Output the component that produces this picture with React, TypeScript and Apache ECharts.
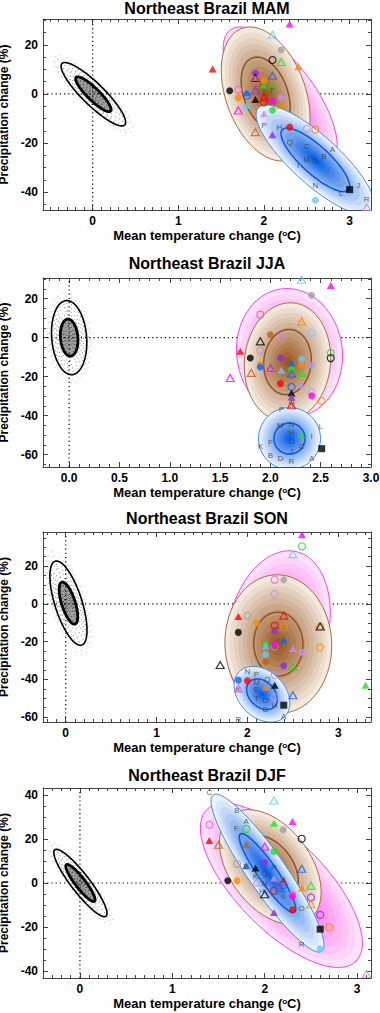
import React, { useEffect, useRef } from 'react';
import * as echarts from 'echarts';

const FONT = '"Liberation Sans", Arial, Helvetica, sans-serif';

const TITLES = ['Northeast Brazil MAM', 'Northeast Brazil JJA', 'Northeast Brazil SON', 'Northeast Brazil DJF'];
const X_NAME = 'Mean temperature change ({s|o}C)';
const Y_NAME = 'Precipitation change (%)';

const X_MIN = [-0.58, -0.26, -0.25, -0.4];
const X_MAX = [3.25, 3.0, 3.36, 3.15];
const Y_MIN = [-47.2, -66.4, -62.6, -43.2];
const Y_MAX = [30.5, 30.6, 38.1, 43.2];
const X_SPLIT = [4, 6, 4, 4];
const X_STEP = [1, 0.5, 1, 1];
const X_MINOR = [10, 5, 10, 10];
const X_DEC = [0, 1, 0, 0];
const Y_SPLIT = [4, 5, 5, 4];
const Y_STEP = [20, 20, 20, 20];

const GRID_TOP = [19, 278, 532, 788];
const GRID_H = [191, 189, 190, 190];
const TITLE_Y = [8, 263.5, 518.5, 775];

const COLORS: Record<string, string> = {
  R: '#ff0000', M: '#ff00ff', LB: '#66c8ff', G: '#a0a0a0', K: '#000000', GR: '#22dd22',
  O: '#ff8800', P: '#8a2be2', PK: '#ff55cc', B: '#0a64ff', L: '#c090ee', BR: '#c0601e', S: '#ff5566',
};

// [cx, cy, major semi-axis dx, dy, minor/major ratio, inner contour scale]
const MAM_ELLIPSES = [
  [2.19, -1.2, -0.584, 27.2, 0.41, 0.55],
  [2.02, 0.0, -0.279, 26.7, 0.57, 0.55],
  [2.6, -26.8, 0.666, -21.1, 0.31, 0.58],
];
const JJA_ELLIPSES = [
  [2.19, -7.8, -0.08, 32.8, 0.82, 0.55],
  [2.17, -12.5, 0.06, 30.3, 0.725, 0.55],
  [2.19, -51.8, 0.0, 15.9, 1.0, 0.5],
];
const SON_ELLIPSES = [
  [2.34, -13.3, 0.198, 41, 0.63, 0.55],
  [2.34, -21.3, -0.033, 36.7, 0.77, 0.46],
  [2.16, -47.9, -0.249, 12.0, 0.72, 0.55],
];
const DJF_ELLIPSES = [
  [2.18, -1.1, -0.806, 34.5, 0.42, 0.55],
  [2.06, 7.2, -0.425, 23.7, 0.62, 0.55],
  [2.03, 4.5, -0.588, 35.6, 0.2, 0.5],
];
const CLOUDS = [
  [0.008, -0.1, -0.366, 12.5, 0.25, 0.55],
  [0.0, 0.0, -0.03, 19.0, 0.47, 0.5],
  [0.03, 0.4, -0.146, 22.2, 0.31, 0.5],
  [0.005, 0.0, -0.277, 15.1, 0.22, 0.55],
];
const KINDS = ['pink', 'brown', 'blue'];

const MAM_MARKERS: [number, number, string, string][] = [
  [2.3, 28.5, 't', 'M'], [2.1, 24.1, 'v', 'LB'], [2.2, 17.9, 'c', 'G'], [2.1, 13.8, 'o', 'K'],
  [2.2, 13.0, 'v', 'GR'], [2.4, 11.1, 't', 'O'], [1.4, 10.2, 't', 'R'], [1.9, 8.4, 'c', 'P'],
  [1.9, 6.5, 'v', 'K'], [1.9, 5.6, 'o', 'PK'], [2.1, 7.4, 'v', 'B'], [2.0, 5.5, 'c', 'O'],
  [2.0, 3.7, 't', 'GR'], [2.1, 2.6, 'o', 'GR'], [1.6, 1.3, 'c', 'K'], [1.7, 1.7, 'o', 'PK'],
  [1.8, 0.5, 't', 'B'], [1.9, 1.4, 'v', 'P'], [1.8, -0.6, 'o', 'B'], [1.7, -1.5, 'c', 'O'],
  [1.9, -2.2, 't', 'K'], [2.0, -1.3, 'v', 'R'], [2.0, -3.4, 'o', 'R'], [2.1, -2.8, 'c', 'M'],
  [2.2, -1.5, 'c', 'L'], [2.2, -4.4, 'v', 'O'], [1.8, -4.7, 't', 'LB'], [1.7, -6.7, 'v', 'M'],
  [2.1, -6.6, 'c', 'GR'], [2.0, -8.0, 't', 'L'], [1.9, -15.5, 'v', 'BR'], [2.3, -13.5, 'c', 'R'],
  [2.5, -14.2, 'o', 'L'], [2.6, -14.5, 'o', 'O'], [2.1, -16.6, 't', 'P'], [3.0, -38.9, 's', 'K'],
  [2.6, -43.2, 'c', 'LB'], [3.2, -46.1, 'v', 'L'],
];
const JJA_MARKERS: [number, number, string, string][] = [
  [2.31, 29.7, 'v', 'LB'], [2.6, 26.8, 't', 'M'], [2.41, 21.7, 'c', 'G'], [1.9, 11.8, 'o', 'S'],
  [2.31, 8.3, 'v', 'O'], [2.41, 2.5, 'o', 'LB'], [2.0, 1.5, 'c', 'BR'], [2.11, -0.2, 'o', 'L'],
  [1.9, -1.9, 'v', 'K'], [1.9, -6.5, 'o', 'G'], [1.7, -7.0, 't', 'R'], [2.6, -7.9, 'o', 'GR'],
  [2.6, -10.5, 'o', 'K'], [1.8, -10.5, 'c', 'K'], [2.1, -10.5, 'c', 'P'], [2.31, -11.3, 'c', 'LB'],
  [2.21, -13.0, 't', 'B'], [2.31, -13.4, 't', 'O'], [1.9, -13.9, 'c', 'O'], [1.9, -15.1, 'c', 'B'],
  [2.41, -14.2, 'c', 'L'], [2.0, -15.6, 'v', 'P'], [2.0, -18.1, 'o', 'PK'], [2.11, -16.8, 't', 'LB'],
  [2.21, -16.4, 'c', 'GR'], [2.21, -18.5, 'v', 'B'], [2.31, -18.1, 'v', 'GR'], [1.81, -18.1, 'v', 'BR'],
  [1.6, -20.7, 'v', 'M'], [2.1, -23.6, 'c', 'R'], [2.31, -24.5, 't', 'L'], [2.21, -25.3, 'o', 'B'],
  [2.21, -28.4, 't', 'K'], [2.21, -30.5, 't', 'P'], [2.41, -27.9, 'o', 'L'], [2.41, -29.8, 'c', 'M'],
  [2.51, -32.5, 'o', 'O'], [2.21, -34.7, 'v', 'R'], [2.31, -49.8, 't', 'GR'], [2.51, -57.0, 's', 'K'],
];
const SON_MARKERS: [number, number, string, string][] = [
  [2.6, 36.7, 't', 'M'], [2.6, 30.5, 'o', 'GR'], [2.5, 26.4, 'v', 'LB'], [2.3, 12.8, 'o', 'PK'],
  [2.4, 12.8, 'c', 'G'], [2.3, 5.3, 'o', 'L'], [1.9, -6.7, 't', 'R'], [2.0, -6.2, 'o', 'G'],
  [2.4, -6.2, 'v', 'R'], [2.1, -10.3, 'c', 'O'], [2.3, -11.5, 'o', 'R'], [2.4, -12.4, 'o', 'O'],
  [2.8, -12.0, 'o', 'O'], [2.8, -12.0, 'v', 'K'], [1.9, -15.1, 'c', 'K'], [2.3, -13.8, 't', 'P'],
  [2.4, -19.1, 't', 'B'], [2.2, -21.4, 'c', 'GR'], [2.2, -22.3, 't', 'LB'], [2.3, -22.7, 'o', 'G'],
  [2.3, -21.4, 'c', 'M'], [2.5, -23.6, 't', 'L'], [2.6, -25.7, 'c', 'L'], [2.8, -23.2, 'o', 'O'],
  [2.2, -26.8, 'c', 'LB'], [2.2, -30.7, 'c', 'BR'], [1.7, -32.4, 'v', 'K'], [2.4, -32.8, 'c', 'P'],
  [2.5, -33.3, 'v', 'GR'], [2.3, -37.7, 'o', 'L'], [1.9, -40.4, 'c', 'B'], [2.0, -40.8, 'c', 'R'],
  [2.3, -43.1, 't', 'K'], [2.2, -44.0, 't', 'O'], [1.9, -44.8, 'v', 'PK'], [2.5, -48.4, 'v', 'B'],
  [2.3, -49.5, 'o', 'L'], [2.4, -53.7, 's', 'K'], [3.3, -43.1, 't', 'GR'],
];
const DJF_MARKERS: [number, number, string, string][] = [
  [2.1, 37.5, 'v', 'LB'], [2.1, 27.2, 't', 'GR'], [2.3, 28.0, 't', 'M'], [1.8, 24.6, 'o', 'GR'],
  [1.4, 26.5, 'o', 'PK'], [2.2, 24.2, 'c', 'G'], [2.4, 20.1, 'o', 'K'], [1.4, 19.3, 't', 'R'],
  [1.5, 17.4, 'v', 'BR'], [1.8, 17.4, 't', 'BR'], [2.0, 16.6, 'v', 'M'], [2.1, 14.3, 'c', 'GR'],
  [1.7, 8.7, 'o', 'G'], [1.8, 7.8, 't', 'B'], [1.9, 6.8, 't', 'K'], [2.0, 9.3, 'c', 'P'],
  [2.4, 6.5, 'v', 'B'], [1.91, 0.4, 'v', 'L'], [2.1, 2.2, 't', 'L'], [2.2, 0.7, 'v', 'R'],
  [1.6, 1.0, 'c', 'K'], [1.7, 1.0, 'c', 'O'], [2.4, -2.3, 't', 'O'], [2.5, -1.3, 'v', 'GR'],
  [2.0, -5.1, 'v', 'K'], [2.1, -3.5, 'o', 'R'], [2.2, -1.0, 'o', 'B'], [2.3, -5.1, 'c', 'PK'],
  [2.3, -6.1, 'c', 'M'], [2.5, -6.6, 'o', 'P'], [2.5, -9.6, 'v', 'O'], [2.3, -12.2, 'c', 'R'],
  [2.1, -13.4, 't', 'P'], [2.6, -14.5, 'o', 'P'], [2.6, -21.0, 's', 'K'], [2.7, -20.2, 'o', 'O'],
  [2.6, -29.9, 'c', 'LB'], [3.1, -41.4, 'v', 'L'],
];

const MAM_LETTERS: [number, number, string][] = [
  [2.1, 1.5, 'F'], [2.0, -12.9, 'P'], [2.18, -13.5, 'H'], [2.3, -19.6, 'Q'], [2.5, -21.3, 'C'],
  [2.8, -22.6, 'A'], [2.7, -25.3, 'B'], [2.5, -26.5, 'M'], [2.6, -27.4, 'O'], [2.4, -29.0, 'I'],
  [2.6, -37.2, 'N'], [2.9, -40.3, 'L'], [3.1, -37.2, 'J'], [3.2, -42.9, 'R'],
];
const JJA_LETTERS: [number, number, string][] = [
  [2.21, -33.4, 'Q'], [2.11, -36.8, 'P'], [2.1, -45.0, 'M'], [2.21, -44.6, 'N'], [2.5, -45.5, 'L'],
  [2.21, -48.9, 'H'], [2.41, -50.6, 'I'], [2.0, -53.9, 'F'], [2.21, -53.2, 'O'], [2.31, -56.1, 'C'],
  [1.9, -56.1, 'K'], [2.0, -60.5, 'B'], [2.1, -61.9, 'D'], [2.21, -58.6, 'J'], [2.41, -62.1, 'A'],
  [2.21, -63.6, 'R'],
];
const SON_LETTERS: [number, number, string][] = [
  [2.0, -36.0, 'N'], [2.1, -37.4, 'P'], [2.1, -41.5, 'M'], [2.1, -45.6, 'E'], [2.1, -50.0, 'T'],
  [2.22, -40.0, 'Q'], [1.9, -45.2, 'K'], [2.2, -51.2, 'O'], [2.3, -53.7, 'H'], [2.2, -55.8, 'D'],
  [2.4, -59.9, 'A'], [1.9, -61.3, 'R'],
];
const DJF_LETTERS: [number, number, string][] = [
  [1.4, 41.3, 'C'], [1.7, 32.8, 'B'], [1.8, 28.0, 'A'], [1.69, 24.9, 'F'], [1.8, 7.6, 'E'],
  [2.1, 7.2, 'R'], [2.0, 4.5, 'Q'], [1.9, 3.0, 'K'], [2.0, -0.4, 'N'], [1.97, -4.0, 'H'],
  [2.2, 1.2, 'J'], [2.2, -2.9, 'L'], [2.2, -6.3, 'I'], [2.4, -11.4, 'O'], [2.4, -28.1, 'R'],
];

const PANEL_ELLIPSES = [MAM_ELLIPSES, JJA_ELLIPSES, SON_ELLIPSES, DJF_ELLIPSES];
const PANEL_MARKERS = [MAM_MARKERS, JJA_MARKERS, SON_MARKERS, DJF_MARKERS];
const PANEL_LETTERS = [MAM_LETTERS, JJA_LETTERS, SON_LETTERS, DJF_LETTERS];

const SHADES: Record<string, { outer: string; inner: string; line: string; contour: string | null }> = {
  pink: { outer: '#fde3fa', inner: '#ff40e8', line: '#ff3cf0', contour: null },
  brown: { outer: '#f4eae0', inner: '#9a5822', line: '#a86c40', contour: '#8f5220' },
  blue: { outer: '#ebf2fd', inner: '#0b5fe6', line: '#3d8cf2', contour: '#0a55d6' },
};

function hexRgb(c: string) {
  return [parseInt(c.slice(1, 3), 16), parseInt(c.slice(3, 5), 16), parseInt(c.slice(5, 7), 16)];
}
function mix(a: string, b: string, t: number) {
  const A = hexRgb(a), B = hexRgb(b);
  return `rgb(${A.map((v, i) => Math.round(v + (B[i] - v) * t)).join(',')})`;
}

function ellPts(api: any, e: number[], s: number) {
  const c = api.coord([e[0], e[1]]);
  const p = api.coord([e[0] + e[2], e[1] + e[3]]);
  const ax = p[0] - c[0], ay = p[1] - c[1];
  const bx = -ay * e[4], by = ax * e[4];
  const pts: number[][] = [];
  const n = 90;
  for (let i = 0; i < n; i++) {
    const t = (i / n) * Math.PI * 2;
    const ct = Math.cos(t), st = Math.sin(t);
    pts.push([c[0] + s * (ax * ct + bx * st), c[1] + s * (ay * ct + by * st)]);
  }
  return pts;
}

function clipOf(params: any) {
  const cs = params.coordSys;
  return { type: 'rect', shape: { x: cs.x, y: cs.y, width: cs.width, height: cs.height } };
}

function fmt(step: number, dec: number) {
  return (v: number) => {
    const q = v / step;
    if (Math.abs(q - Math.round(q)) > 1e-6) return '';
    return dec ? v.toFixed(dec) : String(Math.round(v));
  };
}

const AX_COLOR = '#444';
const labelStyle = { fontSize: 12, fontWeight: 'bold', color: '#000', fontFamily: FONT };

function buildOption() {
  const grid: any[] = [];
  const xAxis: any[] = [];
  const yAxis: any[] = [];
  const series: any[] = [];
  const graphic: any[] = [];

  for (let i = 0; i < 4; i++) {
    grid.push({ left: 43, top: GRID_TOP[i], width: 328, height: GRID_H[i], outerBoundsMode: 'none', containLabel: false });
    const xBase = {
      type: 'value', gridIndex: i, min: X_MIN[i], max: X_MAX[i], splitNumber: X_SPLIT[i],
      axisLine: { onZero: false, lineStyle: { color: AX_COLOR, width: 1 } },
      axisTick: { inside: true, length: 5, lineStyle: { color: AX_COLOR } },
      minorTick: { show: true, splitNumber: X_MINOR[i], length: 3, lineStyle: { color: AX_COLOR } },
      splitLine: { show: false },
    };
    xAxis.push({
      ...xBase, position: 'bottom',
      axisLabel: { ...labelStyle, margin: 5, formatter: fmt(X_STEP[i], X_DEC[i]) },
      name: X_NAME, nameLocation: 'middle', nameGap: 19,
      nameTextStyle: {
        fontSize: 13, fontWeight: 'bold', color: '#000', fontFamily: FONT,
        rich: { s: { fontSize: 8, fontWeight: 'bold', fontFamily: FONT, color: '#000', verticalAlign: 'top', lineHeight: 10 } },
      },
    });
    xAxis.push({ ...xBase, position: 'top', axisLabel: { show: false } });
    const yBase = {
      type: 'value', gridIndex: i, min: Y_MIN[i], max: Y_MAX[i], splitNumber: Y_SPLIT[i],
      axisLine: { onZero: false, lineStyle: { color: AX_COLOR, width: 1 } },
      axisTick: { inside: true, length: 5, lineStyle: { color: AX_COLOR } },
      minorTick: { show: true, splitNumber: 4, length: 3, lineStyle: { color: AX_COLOR } },
      splitLine: { show: false },
    };
    yAxis.push({
      ...yBase, position: 'left',
      axisLabel: { ...labelStyle, margin: 5, formatter: fmt(Y_STEP[i], 0) },
      name: Y_NAME, nameLocation: 'middle', nameGap: 26, nameRotate: 90,
      nameTextStyle: { fontSize: 12, fontWeight: 'bold', color: '#000', fontFamily: FONT, lineHeight: 12 },
    });
    yAxis.push({ ...yBase, position: 'right', axisLabel: { show: false } });

    const xi = 2 * i, yi = 2 * i;
    const dotted = { color: '#000', width: 1.2, type: [1.2, 3] };
    series.push({
      type: 'line', xAxisIndex: xi, yAxisIndex: yi, silent: true, symbol: 'none', z: 1,
      lineStyle: dotted, data: [[0, Y_MIN[i]], [0, Y_MAX[i]]],
    });
    series.push({
      type: 'line', xAxisIndex: xi, yAxisIndex: yi, silent: true, symbol: 'none', z: 1,
      lineStyle: dotted, data: [[X_MIN[i], 0], [X_MAX[i], 0]],
    });

    const ells = PANEL_ELLIPSES[i];
    series.push({
      type: 'custom', xAxisIndex: xi, yAxisIndex: yi, silent: true, z: 2,
      data: ells.map((e) => [e[0], e[1]]),
      encode: { x: 0, y: 1 },
      renderItem: (params: any, api: any) => {
        const e = ells[params.dataIndex];
        const sh = SHADES[KINDS[params.dataIndex]];
        const children: any[] = [];
        const N = 12;
        for (let k = 0; k < N; k++) {
          const s = 1 - k / N;
          children.push({
            type: 'polygon', shape: { points: ellPts(api, e, s) },
            style: { fill: mix(sh.outer, sh.inner, k / (N - 1)), stroke: 'none' },
          });
        }
        children.push({
          type: 'polygon', shape: { points: ellPts(api, e, 1) },
          style: { fill: 'none', stroke: sh.line, lineWidth: 1 },
        });
        if (sh.contour) {
          children.push({
            type: 'polygon', shape: { points: ellPts(api, e, e[5]) },
            style: { fill: 'none', stroke: sh.contour, lineWidth: 1.5 },
          });
        }
        return { type: 'group', children, clipPath: clipOf(params) };
      },
    });

    const cloud = CLOUDS[i];
    series.push({
      type: 'custom', xAxisIndex: xi, yAxisIndex: yi, silent: true, z: 3,
      data: [[cloud[0], cloud[1]]],
      encode: { x: 0, y: 1 },
      renderItem: (params: any, api: any) => {
        const children: any[] = [];
        children.push({
          type: 'polygon', shape: { points: ellPts(api, cloud, cloud[5]) },
          style: { fill: 'rgba(0,0,0,0.38)', stroke: 'none' },
        });
        for (let s = 0.12; s <= 1.32; s += 0.1) {
          const op = s <= cloud[5] ? 0.9 : s <= 1.0 ? 0.65 : 0.35;
          children.push({
            type: 'polygon', shape: { points: ellPts(api, cloud, s) },
            style: { fill: 'none', stroke: '#000', lineWidth: 0.9, lineDash: [0.9, 1.8 + s * 2.5], opacity: op },
          });
        }
        children.push({
          type: 'polygon', shape: { points: ellPts(api, cloud, 1) },
          style: { fill: 'none', stroke: '#000', lineWidth: 1.6 },
        });
        children.push({
          type: 'polygon', shape: { points: ellPts(api, cloud, cloud[5]) },
          style: { fill: 'none', stroke: '#000', lineWidth: 2.8 },
        });
        return { type: 'group', children, clipPath: clipOf(params) };
      },
    });

    series.push({
      type: 'scatter', xAxisIndex: xi, yAxisIndex: yi, silent: true, z: 4,
      data: PANEL_MARKERS[i].map((m) => {
        const c = COLORS[m[3]];
        const shape = m[2];
        const symbol = shape === 'c' || shape === 'o' ? 'circle' : shape === 's' ? 'rect' : 'triangle';
        const open = shape === 'o' || shape === 'v';
        const size = symbol === 'triangle' ? [8, 7] : 7;
        return {
          value: [m[0], m[1]], symbol, symbolSize: size,
          itemStyle: open
            ? { color: 'rgba(255,255,255,0)', borderColor: c, borderWidth: 1.2 }
            : { color: c, borderWidth: 0 },
        };
      }),
    });

    series.push({
      type: 'scatter', xAxisIndex: xi, yAxisIndex: yi, silent: true, z: 5,
      symbol: 'circle', symbolSize: 1, itemStyle: { color: 'rgba(0,0,0,0)' },
      label: { show: true, position: 'inside', formatter: '{b}', fontSize: 8, color: '#3a3a3a', fontFamily: FONT },
      data: PANEL_LETTERS[i].map((l) => ({ value: [l[0], l[1]], name: l[2] })),
    });

    graphic.push({
      type: 'text', x: 207, y: TITLE_Y[i], silent: true,
      style: {
        text: TITLES[i], fill: '#000', fontSize: 16, fontWeight: 'bold', fontFamily: FONT,
        align: 'center', verticalAlign: 'middle', textAlign: 'center', textVerticalAlign: 'middle',
      },
    });
  }

  return { animation: false, backgroundColor: '#fff', grid, xAxis, yAxis, series, graphic };
}

export default function App() {
  const ref = useRef<HTMLDivElement>(null);
  useEffect(() => {
    if (!ref.current) return;
    const chart = echarts.init(ref.current, null, { renderer: 'svg' });
    chart.setOption(buildOption() as any);
    return () => chart.dispose();
  }, []);
  return <div ref={ref} style={{ position: 'absolute', left: 0, top: 0, width: 380, height: 1013 }} />;
}
